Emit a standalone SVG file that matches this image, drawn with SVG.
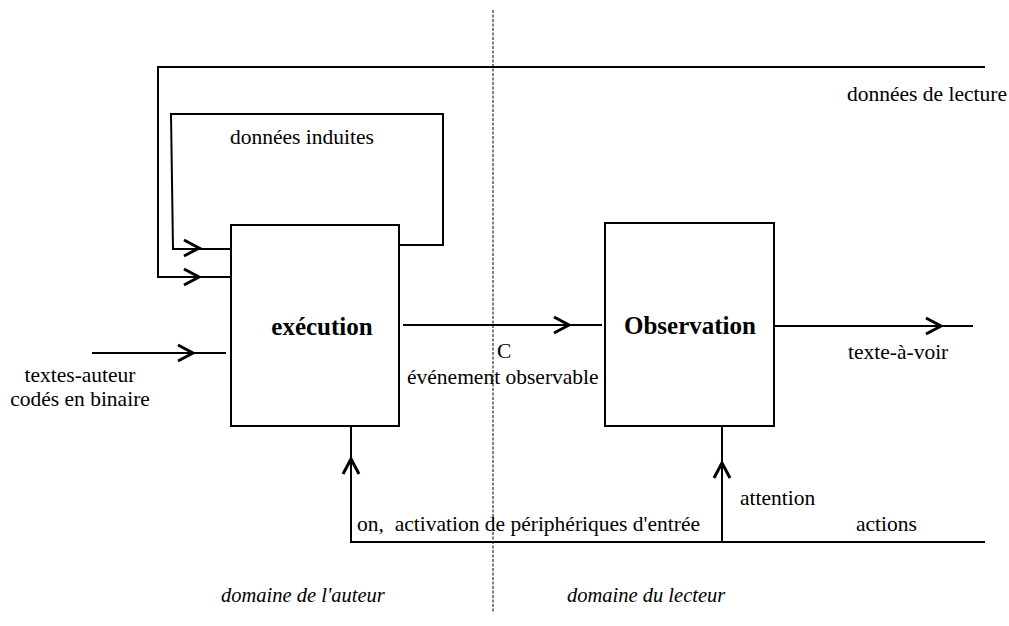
<svg xmlns="http://www.w3.org/2000/svg" width="1009" height="626" viewBox="0 0 1009 626">
<style>
.ln{fill:none;stroke:#000;stroke-width:2}
.box{fill:#fff;stroke:#000;stroke-width:2}
.ah{fill:none;stroke:#000;stroke-width:3;stroke-linejoin:miter}
.t{font-size:21.5px;fill:#000}
.b{font-size:25px;font-weight:bold;fill:#000}
.i{font-style:italic;font-size:20.5px}
.dv{fill:none;stroke:#000;stroke-width:1;stroke-dasharray:3,1.5}
</style>
<defs>
<path id="chev" d="M-15,-8 L0,0 L-15,8"/>
</defs>
<rect width="1009" height="626" fill="#fff"/>
<line class="dv" x1="493" y1="10" x2="493" y2="612"/>
<g id="connectors">
<path class="ln" d="M985,67 H158 V277 H231"/>
<path class="ln" d="M399,245 H443 V114 H171 L173,249 H231"/>
<path class="ln" d="M92,353 H226"/>
<path class="ln" d="M403,325 H602"/>
<path class="ln" d="M775,326 H973"/>
<path class="ln" d="M985,542 H351 V427"/>
<path class="ln" d="M722,542 V427"/>
<g class="ah">
<use href="#chev" transform="translate(199,277)"/>
<use href="#chev" transform="translate(199,248)"/>
<use href="#chev" transform="translate(193,353)"/>
<use href="#chev" transform="translate(569,325)"/>
<use href="#chev" transform="translate(941,326)"/>
<use href="#chev" transform="translate(351,459) rotate(-90)"/>
<use href="#chev" transform="translate(722,463) rotate(-90)"/>
</g>
</g>
<g font-family="'Liberation Serif', 'Times New Roman', 'DejaVu Serif', serif">
<g id="execution">
<rect class="box" x="231" y="225" width="168" height="201"/>
<text class="b" x="322" y="335" text-anchor="middle">exécution</text>
</g>
<g id="observation">
<rect class="box" x="605" y="223" width="169" height="203"/>
<text class="b" x="690" y="334" text-anchor="middle">Observation</text>
</g>
<g id="labels">
<text class="t" x="847" y="101">données de lecture</text>
<text class="t" x="230" y="144">données induites</text>
<text class="t" x="497" y="358">C</text>
<text class="t" x="407" y="384">événement observable</text>
<text class="t" x="848" y="359">texte-à-voir</text>
<text class="t" x="80" y="382" text-anchor="middle">textes-auteur</text>
<text class="t" x="80" y="406" text-anchor="middle">codés en binaire</text>
<text class="t" x="740" y="505">attention</text>
<text class="t" x="856" y="531">actions</text>
<text class="t" x="357" y="531" xml:space="preserve">on,  activation de périphériques d'entrée</text>
<text class="t i" x="221" y="602">domaine de l'auteur</text>
<text class="t i" x="567" y="602">domaine du lecteur</text>
</g>
</g>
</svg>
